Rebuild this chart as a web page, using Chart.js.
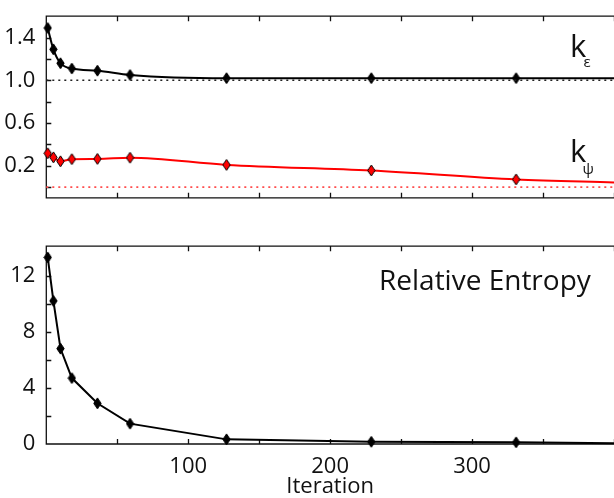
<!DOCTYPE html>
<html>
<head>
<meta charset="utf-8">
<script src="https://cdn.jsdelivr.net/npm/chart.js@4.4.1/dist/chart.umd.min.js"></script>
<style>
  html, body { margin: 0; padding: 0; background: #fff; overflow: hidden; width: 614px; height: 498px; }
  canvas { position: absolute; left: 0; }
</style>
</head>
<body>
<canvas id="topChart" width="621" height="214" style="top:0"></canvas>
<canvas id="bottomChart" width="621" height="268" style="top:230px"></canvas>
<script>
// data
const iterations = [1, 5, 10, 18, 36, 59, 127, 229, 331, 400];
const kEpsilon   = [1.49, 1.29, 1.16, 1.11, 1.09, 1.05, 1.02, 1.02, 1.02, 1.02];
const kPsi       = [0.317, 0.279, 0.242, 0.262, 0.264, 0.275, 0.208, 0.156, 0.072, 0.044];
const relEntropy = [13.3, 10.2, 6.8, 4.7, 2.9, 1.45, 0.33, 0.16, 0.12, 0.05];
const markedPoints = 9; // last entry is only where the curve leaves the frame

const refX = [0, 400];
const kEpsilonTrue = [1.0, 1.0];
const kPsiTrue = [0.0, 0.0];

const xTicks = [0, 50, 100, 150, 200, 250, 300, 350, 400];
const xLabels = [100, 200, 300];
const topTicks = [0, 0.2, 0.4, 0.6, 0.8, 1.0, 1.2, 1.4];
const topLabels = [0.2, 0.6, 1.0, 1.4];
const bottomTicks = [0, 2, 4, 6, 8, 10, 12];
const bottomLabels = [0, 4, 8, 12];

const FONT = "'Open Sans', sans-serif";
const INK = '#111';

// tall diamond marker, like matlab's 'd'
function diamond(fill) {
  const c = document.createElement('canvas');
  c.width = 9; c.height = 13;
  const g = c.getContext('2d');
  g.beginPath();
  g.moveTo(4.5, 1); g.lineTo(8.2, 6.5); g.lineTo(4.5, 12); g.lineTo(0.8, 6.5);
  g.closePath();
  g.fillStyle = fill; g.fill();
  g.strokeStyle = '#000'; g.lineWidth = 1; g.stroke();
  return c;
}

const pts = (ys) => iterations.map((x, i) => ({ x, y: ys[i] }));
const refPts = (ys) => refX.map((x, i) => ({ x, y: ys[i] }));
const markerRadius = ctx => ctx.dataIndex < markedPoints ? 5 : 0;

// box + inward ticks
const frame = {
  id: 'frame',
  beforeDatasetsDraw(chart) {
    const { ctx, chartArea: a, scales: { x, y } } = chart;
    ctx.save();
    ctx.strokeStyle = '#111';
    ctx.lineWidth = 1.3;
    ctx.beginPath();
    ctx.moveTo(a.right, a.top); ctx.lineTo(a.left, a.top);
    ctx.lineTo(a.left, a.bottom); ctx.lineTo(a.right, a.bottom);
    x.ticks.forEach(t => {
      const px = Math.round(x.getPixelForValue(t.value)) + 0.5;
      if (px <= a.left + 1) return;
      ctx.moveTo(px, a.top); ctx.lineTo(px, a.top + 5);
      ctx.moveTo(px, a.bottom); ctx.lineTo(px, a.bottom - 5);
    });
    y.ticks.forEach(t => {
      const py = Math.round(y.getPixelForValue(t.value)) + 0.5;
      if (py >= a.bottom - 1) return;
      ctx.moveTo(a.left, py); ctx.lineTo(a.left + 5, py);
    });
    ctx.stroke();
    ctx.restore();
  }
};

// text labels inside the axes
const notes = {
  id: 'notes',
  afterDraw(chart, args, opts) {
    const ctx = chart.ctx;
    ctx.save();
    ctx.fillStyle = INK;
    ctx.textBaseline = 'alphabetic';
    (opts.items || []).forEach(it => {
      ctx.font = it.size + 'px ' + FONT;
      ctx.fillText(it.text, it.x, it.y);
    });
    ctx.restore();
  }
};

function xScale(showLabels) {
  return {
    type: 'linear', min: 0, max: 400,
    grid: { display: false }, border: { display: false },
    afterBuildTicks: s => { s.ticks = xTicks.map(v => ({ value: v })); },
    ticks: {
      display: showLabels, autoSkip: false, maxRotation: 0, padding: 2,
      color: INK, font: { family: FONT, size: 22 },
      callback: v => xLabels.includes(v) ? String(v) : ''
    }
  };
}

function yScale(min, max, ticks, labels, fmt) {
  return {
    type: 'linear', min, max,
    grid: { display: false }, border: { display: false },
    afterBuildTicks: s => { s.ticks = ticks.map(v => ({ value: v })); },
    afterFit: s => { s.width = 46.3; },
    ticks: {
      autoSkip: false, padding: 3, color: INK, font: { family: FONT, size: 22 },
      callback: v => labels.includes(v) ? fmt(v) : ''
    }
  };
}

const common = {
  responsive: false,
  animation: false,
  events: [],
  plugins: { legend: { display: false }, tooltip: { enabled: false } }
};

new Chart(document.getElementById('topChart'), {
  type: 'line',
  data: {
    datasets: [
      { data: refPts(kEpsilonTrue), borderColor: '#222', borderWidth: 1.6, borderDash: [2, 4], pointRadius: 0, clip: false },
      { data: refPts(kPsiTrue), borderColor: '#ff4d4d', borderWidth: 1.6, borderDash: [2, 4], pointRadius: 0, clip: false },
      { data: pts(kEpsilon), borderColor: '#000', borderWidth: 2, cubicInterpolationMode: 'monotone',
        pointStyle: diamond('#000'), pointRadius: markerRadius, clip: false },
      { data: pts(kPsi), borderColor: '#ff0000', borderWidth: 2, cubicInterpolationMode: 'monotone',
        pointStyle: diamond('#ff0000'), pointRadius: markerRadius, clip: false }
    ]
  },
  options: {
    ...common,
    layout: { padding: { top: 10.5, bottom: 1.3, left: 0, right: 0 } },
    scales: {
      x: { ...xScale(false), afterFit: s => { s.height = 0; } },
      y: yScale(-0.1, 1.6, topTicks, topLabels, v => v.toFixed(1))
    },
    plugins: {
      ...common.plugins,
      notes: { items: [
        { text: 'k', x: 570, y: 56.7, size: 31 },
        { text: 'ε', x: 583.5, y: 67.3, size: 15 },
        { text: 'k', x: 570, y: 162.3, size: 31 },
        { text: 'ψ', x: 582.5, y: 173.5, size: 15 }
      ] }
    }
  },
  plugins: [frame, notes]
});

new Chart(document.getElementById('bottomChart'), {
  type: 'line',
  data: {
    datasets: [
      { data: pts(relEntropy), borderColor: '#000', borderWidth: 2,
        pointStyle: diamond('#000'), pointRadius: markerRadius, clip: false }
    ]
  },
  options: {
    ...common,
    layout: { padding: { top: 11.7, bottom: 0, left: 0, right: 0 } },
    scales: {
      x: {
        ...xScale(true),
        afterFit: s => { s.height = 54; },
        title: { display: true, text: 'Iteration', color: INK, padding: { top: 0, bottom: 0 },
                 font: { family: FONT, size: 22, lineHeight: 1 } }
      },
      y: yScale(0, 14.1, bottomTicks, bottomLabels, v => String(v))
    },
    plugins: {
      ...common.plugins,
      notes: { items: [
        { text: 'Relative Entropy', x: 379, y: 60, size: 28 }
      ] }
    }
  },
  plugins: [frame, notes]
});
</script>
</body>
</html>
